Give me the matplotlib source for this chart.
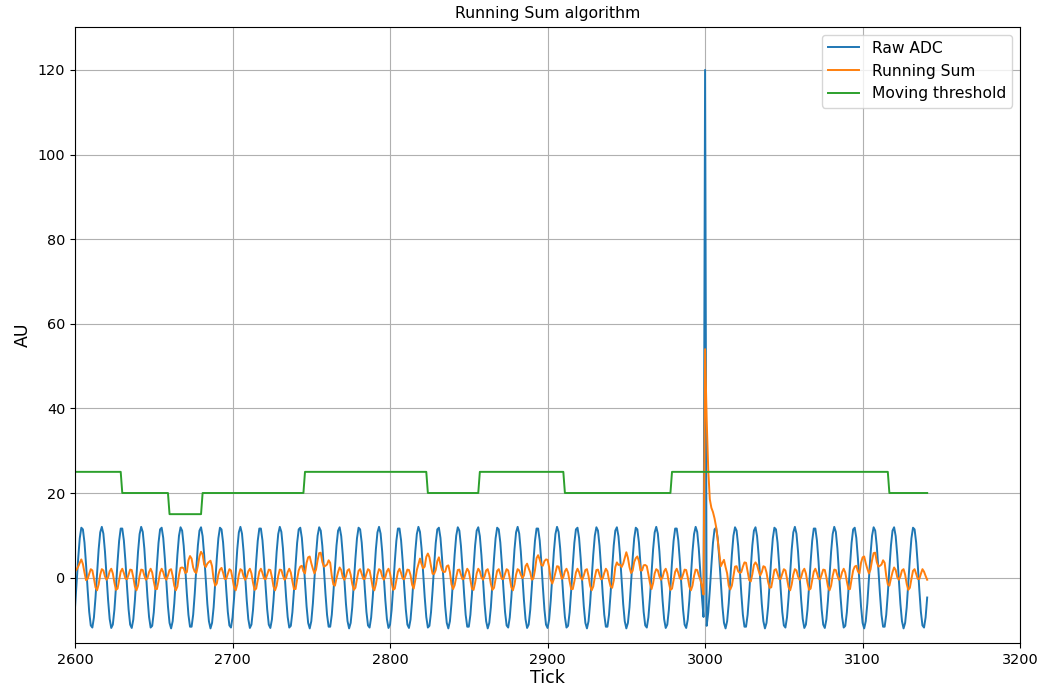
import matplotlib
matplotlib.use("Agg")
import matplotlib.pyplot as plt
import numpy as np

# Samples start at this tick, one value per tick
first_tick = 2600

raw_adc = [
    -7.0, -1.4, 4.5, 9.3, 11.8, 11.4, 8.3, 3.1, -2.8, -8.1,
    -11.3, -11.8, -9.4, -4.7, 1.2, 6.7, 10.7, 12.0, 10.4, 6.2,
    0.5, -5.3, -9.8, -11.9, -11.1, -7.6, -2.2, 3.7, 8.7, 11.6,
    11.6, 8.8, 3.9, -2.1, -7.5, -11.1, -11.9, -9.9, -5.4, 0.4,
    6.1, 10.3, 12.0, 10.8, 6.9, 1.3, -4.6, -9.3, -11.8, -11.4,
    -8.2, -3.0, 2.9, 8.2, 11.4, 11.8, 9.4, 4.6, -1.3, -6.8,
    -10.7, -12.0, -10.3, -6.1, -0.4, 5.4, 9.9, 11.9, 11.1, 7.5,
    2.1, -3.8, -8.8, -11.6, -11.6, -8.8, -3.8, 2.2, 7.6, 11.1,
    11.9, 9.8, 5.3, -0.5, -6.2, -10.3, -12.0, -10.7,
    -7.0, -1.4, 4.5, 9.3, 11.8, 11.4, 8.3, 3.1, -2.8, -8.1,
    -11.3, -11.8, -9.4, -4.7, 1.2, 6.7, 10.7, 12.0, 10.4, 6.2,
    0.5, -5.3, -9.8, -11.9, -11.1, -7.6, -2.2, 3.7, 8.7, 11.6,
    11.6, 8.8, 3.9, -2.1, -7.5, -11.1, -11.9, -9.9, -5.4, 0.4,
    6.1, 10.3, 12.0, 10.8, 6.9, 1.3, -4.6, -9.3, -11.8, -11.4,
    -8.2, -3.0, 2.9, 8.2, 11.4, 11.8, 9.4, 4.6, -1.3, -6.8,
    -10.7, -12.0, -10.3, -6.1, -0.4, 5.4, 9.9, 11.9, 11.1, 7.5,
    2.1, -3.8, -8.8, -11.6, -11.6, -8.8, -3.8, 2.2, 7.6, 11.1,
    11.9, 9.8, 5.3, -0.5, -6.2, -10.3, -12.0, -10.7,
    -7.0, -1.4, 4.5, 9.3, 11.8, 11.4, 8.3, 3.1, -2.8, -8.1,
    -11.3, -11.8, -9.4, -4.7, 1.2, 6.7, 10.7, 12.0, 10.4, 6.2,
    0.5, -5.3, -9.8, -11.9, -11.1, -7.6, -2.2, 3.7, 8.7, 11.6,
    11.6, 8.8, 3.9, -2.1, -7.5, -11.1, -11.9, -9.9, -5.4, 0.4,
    6.1, 10.3, 12.0, 10.8, 6.9, 1.3, -4.6, -9.3, -11.8, -11.4,
    -8.2, -3.0, 2.9, 8.2, 11.4, 11.8, 9.4, 4.6, -1.3, -6.8,
    -10.7, -12.0, -10.3, -6.1, -0.4, 5.4, 9.9, 11.9, 11.1, 7.5,
    2.1, -3.8, -8.8, -11.6, -11.6, -8.8, -3.8, 2.2, 7.6, 11.1,
    11.9, 9.8, 5.3, -0.5, -6.2, -10.3, -12.0, -10.7,
    -7.0, -1.4, 4.5, 9.3, 11.8, 11.4, 8.3, 3.1, -2.8, -8.1,
    -11.3, -11.8, -9.4, -4.7, 1.2, 6.7, 10.7, 12.0, 10.4, 6.2,
    0.5, -5.3, -9.8, -11.9, -11.1, -7.6, -2.2, 3.7, 8.7, 11.6,
    11.6, 8.8, 3.9, -2.1, -7.5, -11.1, -11.9, -9.9, -5.4, 0.4,
    6.1, 10.3, 12.0, 10.8, 6.9, 1.3, -4.6, -9.3, -11.8, -11.4,
    -8.2, -3.0, 2.9, 8.2, 11.4, 11.8, 9.4, 4.6, -1.3, -6.8,
    -10.7, -12.0, -10.3, -6.1, -0.4, 5.4, 9.9, 11.9, 11.1, 7.5,
    2.1, -3.8, -8.8, -11.6, -11.6, -8.8, -3.8, 2.2, 7.6, 11.1,
    11.9, 9.8, 5.3, -0.5, -6.2, -10.3, -12.0, -10.7,
    -7.0, -1.4, 4.5, 9.3, 11.8, 11.4, 8.3, 3.1, -2.8, -8.1,
    -11.3, -11.8, -9.4, -4.7, 1.2, 6.7, 10.7, 12.0, 10.4, 6.2,
    0.5, -5.3, -9.8, -11.9, -11.1, -7.6, -2.2, 3.7, 8.7, 11.6,
    11.6, 8.8, 3.9, -2.1, -7.5, -11.1, -11.9, -9.9, -5.4, 0.4,
    6.1, 10.3, 12.0, 10.8, 6.9, 1.3, -4.6, -9.3, 120.0, -11.4,
    -8.2, -3.0, 2.9, 8.2, 11.4, 11.8, 9.4, 4.6, -1.3, -6.8,
    -10.7, -12.0, -10.3, -6.1, -0.4, 5.4, 9.9, 11.9, 11.1, 7.5,
    2.1, -3.8, -8.8, -11.6, -11.6, -8.8, -3.8, 2.2, 7.6, 11.1,
    11.9, 9.8, 5.3, -0.5, -6.2, -10.3, -12.0, -10.7,
    -7.0, -1.4, 4.5, 9.3, 11.8, 11.4, 8.3, 3.1, -2.8, -8.1,
    -11.3, -11.8, -9.4, -4.7, 1.2, 6.7, 10.7, 12.0, 10.4, 6.2,
    0.5, -5.3, -9.8, -11.9, -11.1, -7.6, -2.2, 3.7, 8.7, 11.6,
    11.6, 8.8, 3.9, -2.1, -7.5, -11.1, -11.9, -9.9, -5.4, 0.4,
    6.1, 10.3, 12.0, 10.8, 6.9, 1.3, -4.6, -9.3, -11.8, -11.4,
    -8.2, -3.0, 2.9, 8.2, 11.4, 11.8, 9.4, 4.6, -1.3, -6.8,
    -10.7, -12.0, -10.3, -6.1, -0.4, 5.4, 9.9, 11.9, 11.1, 7.5,
    2.1, -3.8, -8.8, -11.6, -11.6, -8.8, -3.8, 2.2, 7.6, 11.1,
    11.9, 9.8, 5.3, -0.5, -6.2, -10.3, -12.0, -10.7,
    -7.0, -1.4, 4.5, 9.3, 11.8, 11.4, 8.3, 3.1, -2.8, -8.1,
    -11.3, -11.8, -9.4, -4.7,
]

running_sum = [
    1.5, 1.9, 2.6, 3.5, 4.3, 3.2, 1.2, -0.6, -0.3, 0.9,
    2.0, 1.7, -0.2, -2.3, -3.0, -1.6, 0.7, 2.0, 1.7, 0.3,
    -0.5, 0.1, 1.5, 2.1, 1.0, -1.2, -2.9, -2.6, -0.6, 1.4,
    2.1, 1.1, -0.2, -0.4, 0.7, 1.9, 1.8, 0.1, -2.1, -3.0,
    -1.9, 0.4, 1.9, 1.8, 0.5, -0.5, -0.1, 1.3, 2.1, 1.2,
    -0.9, -2.7, -2.7, -0.9, 1.2, 2.1, 1.3, 0.0, -0.5, 0.5,
    1.8, 2.0, 0.4, -1.9, -3.0, -2.1, 0.6, 2.3, 2.4, 2.2,
    1.1, 1.3, 4.1, 5.1, 4.5, 2.4, 1.4, 1.1, 2.8, 5.0,
    6.1, 5.5, 3.1, 2.5, 3.3, 3.7, 4.0, 2.7,
    -0.5, -1.9, -1.4, 0.7, 1.9, 2.3, 1.2, -0.3, -0.3, 0.9,
    2.0, 1.7, -0.2, -2.3, -3.0, -1.6, 0.7, 2.0, 1.7, 0.3,
    -0.5, 0.1, 1.5, 2.1, 1.0, -1.2, -2.9, -2.6, -0.6, 1.4,
    2.1, 1.1, -0.2, -0.4, 0.7, 1.9, 1.8, 0.1, -2.1, -3.0,
    -1.9, 0.4, 1.9, 1.8, 0.5, -0.5, -0.1, 1.3, 2.1, 1.2,
    -0.9, -2.7, -2.7, -0.4, 1.7, 2.6, 2.8, 1.5, 1.0, 3.5,
    4.8, 5.0, 3.4, 2.1, 1.0, 1.9, 4.1, 5.8, 5.9, 3.7,
    2.6, 2.8, 3.1, 4.1, 3.5, 0.4, -1.6, -1.9, -0.2, 1.3,
    2.4, 1.8, 0.1, -0.5, 0.3, 1.7, 2.0, 0.7,
    -1.5, -2.9, -2.4, -0.3, 1.6, 2.0, 0.9, -0.3, -0.3, 0.9,
    2.0, 1.7, -0.2, -2.3, -3.0, -1.6, 0.7, 2.0, 1.7, 0.3,
    -0.5, 0.1, 1.5, 2.1, 1.0, -1.2, -2.9, -2.6, -0.6, 1.4,
    2.1, 1.1, -0.2, -0.4, 0.7, 1.9, 1.8, 0.6, -1.7, -2.6,
    -0.6, 1.8, 3.2, 4.5, 3.2, 2.2, 2.6, 4.9, 5.7, 4.8,
    2.7, 0.9, 0.9, 1.8, 3.9, 4.8, 3.1, 1.8, 1.3, 1.4,
    2.7, 2.9, 1.3, -1.6, -2.7, -1.8, 0.1, 1.8, 1.9, 0.7,
    -0.4, -0.2, 1.1, 2.1, 1.5, -0.6, -2.6, -2.9, -1.2, 1.0,
    2.1, 1.5, 0.1, -0.5, 0.3, 1.7, 2.0, 0.7,
    -1.5, -2.9, -2.4, -0.3, 1.6, 2.0, 0.9, -0.3, -0.3, 0.9,
    2.0, 1.7, -0.2, -2.3, -3.0, -1.6, 0.7, 2.0, 1.7, 0.7,
    -0.1, 0.5, 2.7, 3.3, 2.2, 1.2, -0.5, -0.2, 1.8, 4.6,
    5.3, 4.3, 3.0, 2.8, 3.9, 4.3, 4.2, 2.5, -0.5, -1.4,
    -0.3, 1.2, 2.7, 2.6, 1.3, -0.3, 0.1, 1.5, 2.1, 1.2,
    -0.9, -2.7, -2.7, -0.9, 1.2, 2.1, 1.3, 0.0, -0.5, 0.5,
    1.8, 2.0, 0.4, -1.9, -3.0, -2.1, 0.1, 1.8, 1.9, 0.7,
    -0.4, -0.2, 1.1, 2.1, 1.5, -0.6, -2.1, -2.4, -0.7, 2.5,
    3.6, 3.0, 3.1, 2.5, 3.3, 4.7, 6.0, 4.7,
    2.5, 1.1, 1.6, 3.7, 4.6, 5.0, 3.9, 1.7, 1.7, 2.9,
    3.0, 2.7, 0.8, -1.3, -2.7, -1.3, 1.0, 2.0, 1.7, 0.3,
    -0.5, 0.1, 1.5, 2.1, 1.0, -1.2, -2.9, -2.6, -0.6, 1.4,
    2.1, 1.1, -0.2, -0.4, 0.7, 1.9, 1.8, 0.1, -2.1, -3.0,
    -1.9, 0.4, 1.9, 1.8, 0.5, -0.5, -2.0, -4.0, 54.0, 37.5,
    25.5, 18.5, 16.5, 15.5, 14.0, 12.0, 9.0, 5.8, 2.7, 3.5,
    4.2, 2.5, 1.0, -1.9, -2.8, -1.9, 0.4, 2.6, 2.7, 1.5,
    1.1, 1.3, 2.6, 3.6, 3.5, 1.4, -0.6, -0.9, 0.8, 3.0,
    3.6, 3.0, 1.6, 0.5, 1.3, 2.7, 2.5, 1.2,
    -1.0, -2.4, -2.3, -0.2, 1.8, 2.0, 0.9, -0.3, -0.3, 0.9,
    2.0, 1.7, -0.2, -2.3, -3.0, -1.6, 0.7, 2.0, 1.7, 0.3,
    -0.5, 0.1, 1.5, 2.1, 1.0, -1.2, -2.9, -2.6, -0.6, 1.4,
    2.1, 1.1, -0.2, -0.4, 0.7, 1.9, 1.8, 0.1, -2.1, -3.0,
    -1.9, 0.4, 1.9, 1.8, 0.5, -0.5, -0.1, 1.3, 2.1, 1.2,
    -0.9, -2.7, -2.7, -0.4, 1.7, 2.6, 2.8, 1.5, 1.0, 3.5,
    4.8, 5.0, 3.4, 2.1, 1.0, 1.9, 4.1, 5.8, 5.9, 3.7,
    2.6, 2.8, 3.1, 4.1, 3.5, 0.4, -1.6, -1.9, -0.2, 1.3,
    2.4, 1.8, 0.1, -0.5, 0.3, 1.7, 2.0, 0.7,
    -1.5, -2.9, -2.4, -0.3, 1.6, 2.0, 0.9, -0.3, -0.3, 0.9,
    2.0, 1.4, 0.4, -0.5,
]

# Moving threshold: level held for a number of ticks
threshold_levels = [25, 20, 15, 20, 25, 20, 25, 20, 25, 20]
threshold_lengths = [30, 30, 21, 65, 78, 33, 54, 68, 138, 25]

if not (len(raw_adc) == len(running_sum) == sum(threshold_lengths)):
    raise ValueError(f"length mismatch: {len(raw_adc)} {len(running_sum)} {sum(threshold_lengths)}")

ticks = first_tick + np.arange(len(raw_adc))
threshold = np.repeat(threshold_levels, threshold_lengths)

fig = plt.figure(figsize=(10.42, 6.86), dpi=100)
ax = fig.add_axes([0.072, 0.063, 0.907, 0.898])

ax.plot(ticks, raw_adc, label="Raw ADC", lw=1.4)
ax.plot(ticks, running_sum, label="Running Sum", lw=1.4)
ax.plot(ticks, threshold, label="Moving threshold", lw=1.4)

ax.set_xlim(2600, 3200)
ax.set_ylim(-15.4, 130.2)
ax.grid(True)
ax.tick_params(labelsize=10.4)
ax.set_title("Running Sum algorithm", fontsize=11.3)
ax.set_xlabel("Tick", fontsize=12.5, labelpad=2)
ax.set_ylabel("AU", fontsize=12.5)
ax.legend(loc="upper right", fontsize=11.2)

fig.savefig("out.png", dpi=100)
